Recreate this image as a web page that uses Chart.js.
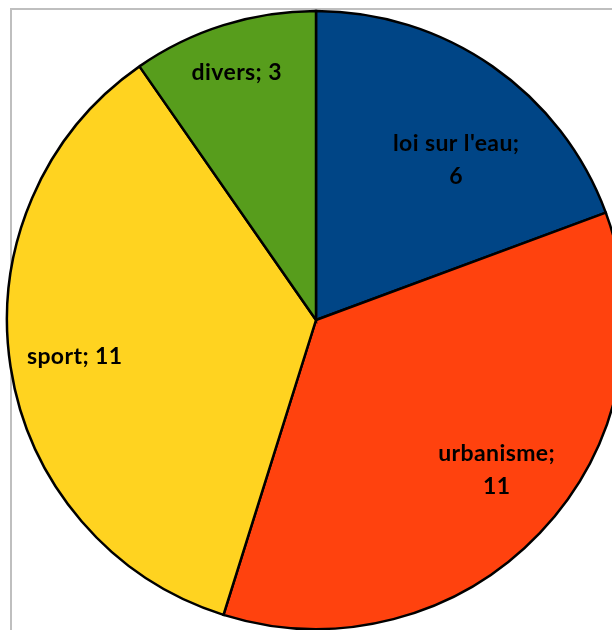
<!DOCTYPE html>
<html>
<head>
<meta charset="utf-8">
<script src="https://cdn.jsdelivr.net/npm/chart.js@4"></script>
<style>
  html, body { margin: 0; padding: 0; width: 612px; height: 630px; overflow: hidden; background: #fff; }
  .frame { position: absolute; left: 10px; top: 8px; width: 700px; height: 700px; border: 2px solid #bfbfbf; box-sizing: border-box; }
  .wrap { position: absolute; left: 0; top: 0; width: 632px; height: 640px; }
</style>
</head>
<body>
<div class="frame"></div>
<div class="wrap"><canvas id="pie"></canvas></div>
<script>
const categories = ['loi sur l\'eau', 'urbanisme', 'sport', 'divers'];
const counts = [6, 11, 11, 3];
const sliceColors = ['#004586', '#ff420e', '#ffd320', '#579d1c'];
// label placement inside each slice: share of the slice's sweep, share of the radius
const labelSweep = [0.59, 0.47, 0.5, 0.49];
const labelDepth = [0.69, 0.76, 0.79, 0.84];
// labels that wrap onto a second line
const wrapLabel = [true, true, false, false];

const sliceLabels = {
  id: 'sliceLabels',
  afterDatasetsDraw(chart) {
    const { ctx } = chart;
    const meta = chart.getDatasetMeta(0);
    ctx.save();
    ctx.font = 'bold 23px Lato, "Open Sans", sans-serif';
    ctx.letterSpacing = '0.4px';
    ctx.fillStyle = '#000';
    ctx.textAlign = 'center';
    ctx.textBaseline = 'middle';
    meta.data.forEach((arc, i) => {
      const p = arc.getProps(['x', 'y', 'startAngle', 'endAngle', 'outerRadius'], true);
      const a = p.startAngle + (p.endAngle - p.startAngle) * labelSweep[i];
      const r = p.outerRadius * labelDepth[i];
      const x = p.x + Math.cos(a) * r;
      const y = p.y + Math.sin(a) * r;
      const head = categories[i] + ';';
      if (wrapLabel[i]) {
        ctx.fillText(head, x, y - 16);
        ctx.fillText(String(counts[i]), x, y + 17);
      } else {
        ctx.fillText(head + ' ' + counts[i], x, y);
      }
    });
    ctx.restore();
  },
};

new Chart(document.getElementById('pie'), {
  type: 'pie',
  plugins: [sliceLabels],
  data: {
    labels: categories,
    datasets: [{
      data: counts,
      backgroundColor: sliceColors,
      borderColor: '#000',
      borderWidth: 2.5,
      borderJoinStyle: 'miter',
      radius: 309,
    }],
  },
  options: {
    responsive: true,
    maintainAspectRatio: false,
    animation: false,
    layout: { padding: 0 },
    plugins: {
      legend: { display: false },
      tooltip: { enabled: false },
    },
  },
});
</script>
</body>
</html>
